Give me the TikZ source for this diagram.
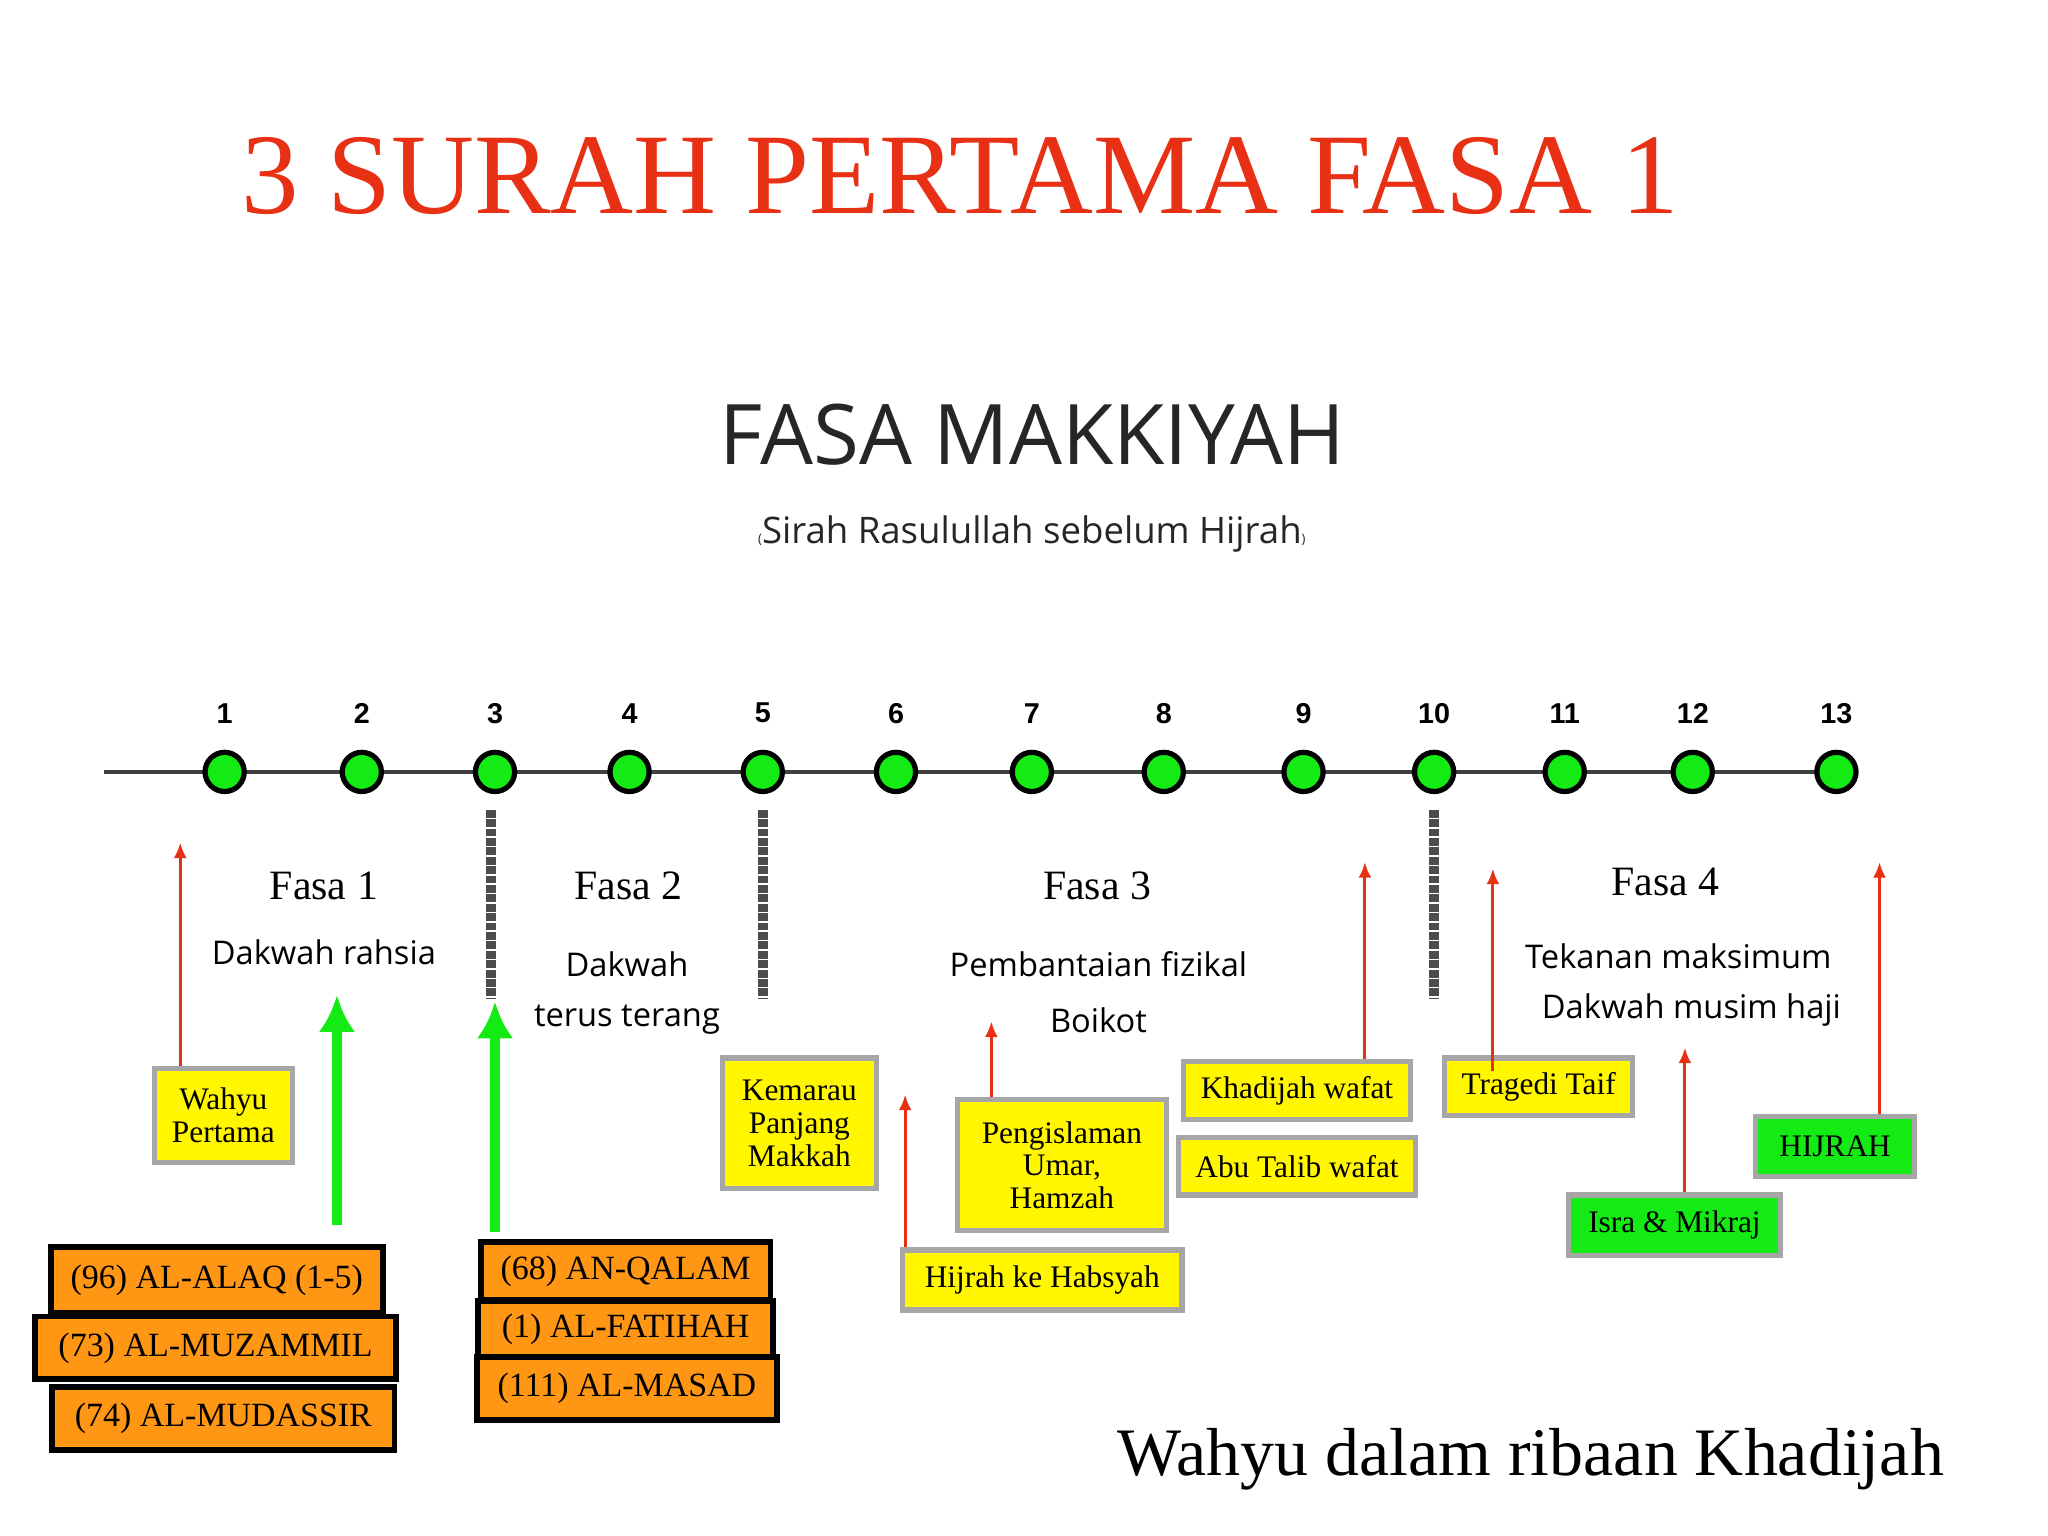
\documentclass[tikz,border=0pt]{standalone}
\usepackage{fontspec}
\setmainfont{Liberation Serif}
\newfontfamily\osans{Open Sans}
\newfontfamily\hsans{Liberation Sans}
\usetikzlibrary{arrows.meta}
\definecolor{tred}{RGB}{232,48,20}
\definecolor{ygl}{RGB}{255,246,0}
\definecolor{gdot}{RGB}{20,235,20}
\definecolor{obox}{RGB}{255,150,20}
\tikzset{
 ybox/.style={draw=gray!70,line width=2pt,fill=ygl,align=center,font=\fontsize{12}{12.5}\selectfont,inner sep=2pt},
 gbox/.style={draw=gray!70,line width=2pt,fill=gdot,align=center,font=\fontsize{12}{12.5}\selectfont},
 orbox/.style={draw=black,line width=2.2pt,fill=obox,font=\fontsize{13}{13}\selectfont},
 dot/.style={circle,draw=black,line width=2pt,fill=gdot,minimum size=15pt,inner sep=0pt},
 num/.style={font=\hsans\bfseries\fontsize{11}{11}\selectfont},
 rarr/.style={draw=tred,line width=1.2pt,-{Latex[length=6pt,width=5pt]}},
 garr/.style={draw=gdot,line width=4pt,-{Latex[length=14pt,width=14pt]}},
 divl/.style={draw=gray!60!black,line width=4pt,dash pattern=on 3pt off 0.6pt},
 fasa/.style={font=\fontsize{16}{16}\selectfont},
 sub/.style={font=\osans\fontsize{12.5}{13}\selectfont}
}
\begin{document}
\begin{tikzpicture}[x=0.5pt,y=-0.5pt]
\useasboundingbox (0,0) rectangle (1568,1176);
\node[text=tred,font=\fontsize{44}{44}\selectfont] (title) at (735,135) {3 SURAH PERTAMA FASA 1};
\node[font=\osans\fontsize{32}{32}\selectfont,text=black!85] (fm) at (790,333) {FASA MAKKIYAH};
\node[font=\osans\fontsize{14}{14}\selectfont,text=black!85] (sub) at (790,409) {{\tiny(}Sirah Rasulullah sebelum Hijrah{\tiny)}};
\coordinate (L0) at (80,591); \coordinate (L1) at (1420,591);
\draw[line width=1.5pt,black!75] (L0) -- (L1);
\foreach \i/\x in {1/172,2/277,3/379,4/482,5/584,6/686,7/790,8/891,9/998,10/1098,11/1198,12/1296,13/1406}{
 \node[dot] (d\i) at (\x,591) {};
 \node[num] (n\i) at (\x,546) {\i};
}
\foreach \x/\n in {376/a,584/b,1098/c}{
 \coordinate (dv\n1) at (\x,620); \coordinate (dv\n2) at (\x,765);
 \draw[divl] (dv\n1) -- (dv\n2);
}
\node[fasa] (f1) at (248,678) {Fasa 1};
\node[sub] (s1) at (248,729) {Dakwah rahsia};
\node[fasa] (f2) at (481,678) {Fasa 2};
\node[sub] (s2a) at (480,738) {Dakwah};
\node[sub] (s2b) at (480,781) {terus terang};
\node[fasa] (f3) at (840,678) {Fasa 3};
\node[sub] (s3a) at (841,738) {Pembantaian fizikal};
\node[sub] (s3b) at (841,781) {Boikot};
\node[fasa] (f4) at (1275,675) {Fasa 4};
\node[sub] (s4a) at (1285,732) {Tekanan maksimum};
\node[sub] (s4b) at (1295,773) {Dakwah musim haji};

\node[ybox,minimum width=53pt,minimum height=36pt] (wp) at (171,854) {Wahyu\\Pertama};
\node[ybox,minimum width=59pt,minimum height=50pt] (km) at (612,860) {Kemarau\\Panjang\\Makkah};
\node[ybox,minimum width=80pt,minimum height=50pt] (pu) at (813,892) {Pengislaman\\Umar,\\Hamzah};
\node[ybox,minimum width=107pt,minimum height=23pt] (hh) at (798,980) {Hijrah ke Habsyah};
\node[ybox,minimum width=87pt,minimum height=22pt] (kw) at (993,835) {Khadijah wafat};
\node[ybox,minimum width=91pt,minimum height=22pt] (at) at (993,893) {Abu Talib wafat};
\node[ybox,minimum width=72pt,minimum height=22pt] (tt) at (1178,832) {Tragedi Taif};
\node[gbox,minimum width=81pt,minimum height=23pt] (im) at (1282,938) {Isra \& Mikraj};
\node[gbox,minimum width=61pt,minimum height=23pt] (hj) at (1405,878) {HIJRAH};

\node[orbox,minimum width=127pt,minimum height=25pt] (o1) at (166,980) {(96) AL-ALAQ (1-5)};
\node[orbox,minimum width=138pt,minimum height=24pt] (o2) at (165,1032) {(73) AL-MUZAMMIL};
\node[orbox,minimum width=131pt,minimum height=24pt] (o3) at (171,1086) {(74) AL-MUDASSIR};
\node[orbox,minimum width=111pt,minimum height=22pt] (o4) at (479,973) {(68) AN-QALAM};
\node[orbox,minimum width=113pt,minimum height=22pt] (o5) at (479,1018) {(1) AL-FATIHAH};
\node[orbox,minimum width=115pt,minimum height=24pt] (o6) at (480,1063) {(111) AL-MASAD};

\coordinate (a1) at (138,645);
\draw[rarr] (wp.north -| a1) -- (a1);
\coordinate (a2) at (693,838);
\draw[rarr] (hh.north -| a2) -- (a2);
\coordinate (a3) at (759,782);
\draw[rarr] (pu.north -| a3) -- (a3);
\coordinate (a4) at (1045,660);
\draw[rarr] (kw.north -| a4) -- (a4);
\coordinate (a5) at (1143,665); \coordinate (a5b) at (1143,820);
\draw[rarr] (a5b) -- (a5);
\coordinate (a6) at (1290,802);
\draw[rarr] (im.north -| a6) -- (a6);
\coordinate (a7) at (1439,660);
\draw[rarr] (hj.north -| a7) -- (a7);
\coordinate (g1) at (258,762); \coordinate (g1b) at (258,938);
\draw[garr] (g1b) -- (g1);
\coordinate (g2) at (379,767); \coordinate (g2b) at (379,943);
\draw[garr] (g2b) -- (g2);

\node[font=\fontsize{26}{26}\selectfont] (wk) at (1172,1117) {Wahyu dalam ribaan Khadijah};
\end{tikzpicture}
\end{document}
